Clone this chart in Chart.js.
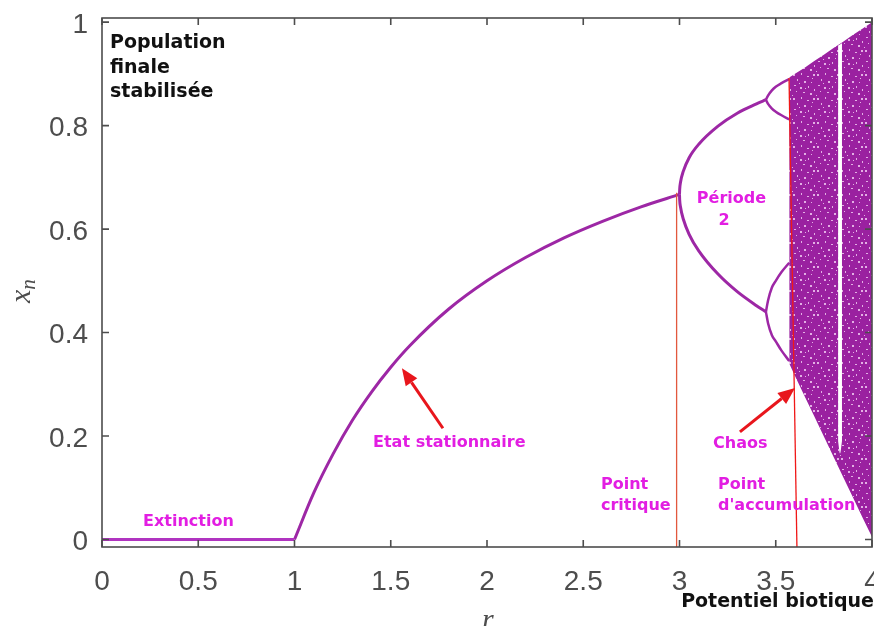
<!DOCTYPE html>
<html>
<head>
<meta charset="utf-8">
<script src="https://cdn.jsdelivr.net/npm/chart.js@4/dist/chart.umd.min.js"></script>
<style>
  html, body { margin: 0; padding: 0; background: #fff; }
  canvas { display: block; }
</style>
</head>
<body>
<canvas id="bif" width="874" height="626"></canvas>
<script>
// tick values
const xTicks = [0, 0.5, 1, 1.5, 2, 2.5, 3, 3.5, 4];
const yTicks = [0, 0.2, 0.4, 0.6, 0.8, 1];

// r < 1 : extinction
const extinctionR = [0, 1];
const extinctionX = [0, 0];

// 1 < r < 3 : stable fixed point
const stableR = [1, 1.1, 1.2, 1.3, 1.4, 1.5, 1.6, 1.8, 2.0, 2.2, 2.4, 2.6, 2.8, 3.0];
const stableX = [0, 0.09, 0.165, 0.23, 0.285, 0.333, 0.375, 0.445, 0.5, 0.545, 0.583, 0.615, 0.643, 0.667];

// period 2
const period2R = [3.0, 3.001, 3.005, 3.02, 3.05, 3.1, 3.2, 3.3, 3.4, 3.449];
const period2Upper = [0.667, 0.677, 0.69, 0.712, 0.738, 0.764, 0.799, 0.824, 0.842, 0.85];
const period2Lower = [0.667, 0.656, 0.643, 0.619, 0.59, 0.558, 0.513, 0.479, 0.452, 0.44];

// period 4 (up to the accumulation point)
const period4R = [3.449, 3.46, 3.48, 3.5, 3.53, 3.57];
const period4A = [0.85, 0.858, 0.868, 0.875, 0.882, 0.89];
const period4B = [0.85, 0.842, 0.833, 0.827, 0.82, 0.812];
const period4C = [0.44, 0.462, 0.487, 0.5, 0.517, 0.535];
const period4D = [0.44, 0.418, 0.395, 0.383, 0.365, 0.345];

// chaotic band envelope
const chaosR = [3.57, 3.6, 3.65, 3.7, 3.75, 3.8, 3.85, 3.9, 3.95, 4.0];
const chaosTop = [0.893, 0.9, 0.912, 0.925, 0.937, 0.95, 0.962, 0.975, 0.987, 1.0];
const chaosBottom = [0.34, 0.316, 0.277, 0.238, 0.199, 0.16, 0.121, 0.082, 0.043, 0.005];

// period-3 window (white stripe)
const windowR = [3.824, 3.834, 3.844];
const windowTop = [0.955, 0.957, 0.959];
const windowBottom = [0.19, 0.166, 0.19];

const PURPLE = '#9d27a5';
const MAGENTA = '#e21ee2';
const RED = '#e8161c';

const pts = (rs, xs) => rs.map((r, i) => ({ x: r, y: xs[i] }));

// speckled fill for the chaotic region
function speckle() {
  const c = document.createElement('canvas');
  c.width = 24; c.height = 24;
  const g = c.getContext('2d');
  g.fillStyle = '#9a21a0';
  g.fillRect(0, 0, 24, 24);
  g.fillStyle = 'rgba(238,200,240,0.85)';
  [[1, 2, 2, 2], [9, 1, 1, 2], [15, 4, 2, 1], [21, 2, 2, 2], [5, 7, 1, 2], [12, 9, 2, 2],
   [19, 10, 1, 1], [2, 13, 2, 1], [8, 15, 2, 2], [16, 14, 1, 2], [22, 17, 1, 2], [4, 19, 1, 1],
   [11, 20, 2, 1], [18, 21, 2, 2], [0, 23, 1, 1], [13, 16, 1, 1], [7, 11, 1, 1], [20, 6, 1, 1]]
    .forEach(([a, b, w, h]) => g.fillRect(a, b, w, h));
  return g.createPattern(c, 'repeat');
}

const curve = (rs, xs, extra) => Object.assign({
  data: pts(rs, xs),
  showLine: true,
  borderColor: PURPLE,
  borderWidth: 3,
  pointRadius: 0,
  cubicInterpolationMode: 'monotone',
  fill: false,
  order: 2,
}, extra || {});

const notes = [
  { lines: ['Extinction'], r: 0.213, v: 0.026, align: 'left' },
  { lines: ['Etat stationnaire'], r: 1.408, v: 0.179, align: 'left' },
  { lines: ['Période'], r: 3.27, v: 0.65, align: 'center' },
  { lines: ['2'], r: 3.231, v: 0.608, align: 'center' },
  { lines: ['Point', 'critique'], r: 2.592, v: 0.057, align: 'left' },
  { lines: ['Point', "d'accumulation"], r: 3.2, v: 0.057, align: 'left' },
  { lines: ['Chaos'], r: 3.174, v: 0.177, align: 'left' },
];
const arrows = [
  { from: [1.771, 0.215], to: [1.558, 0.331] },
  { from: [3.314, 0.208], to: [3.6, 0.293] },
];
const guides = [
  { from: [2.985, 0.67], to: [2.985, -0.0145], color: '#e2583e' },
  { from: [3.569, 0.892], to: [3.61, -0.0145], color: '#f01818' },
];

const decor = {
  id: 'decor',
  afterDatasetsDraw(chart) {
    const { ctx, chartArea: a, scales: { x, y } } = chart;
    const P = (p) => [x.getPixelForValue(p[0]), y.getPixelForValue(p[1])];
    ctx.save();

    guides.forEach(g => {
      const [x1, y1] = P(g.from), [x2, y2] = P(g.to);
      ctx.strokeStyle = g.color; ctx.lineWidth = 1.3;
      ctx.beginPath(); ctx.moveTo(x1, y1); ctx.lineTo(x2, y2); ctx.stroke();
    });

    // frame with inward ticks
    ctx.strokeStyle = '#4d4d4d'; ctx.lineWidth = 1.6;
    ctx.strokeRect(a.left, a.top, a.right - a.left, a.bottom - a.top);
    ctx.beginPath();
    xTicks.forEach(v => {
      const px = x.getPixelForValue(v);
      ctx.moveTo(px, a.bottom); ctx.lineTo(px, a.bottom - 7);
      ctx.moveTo(px, a.top); ctx.lineTo(px, a.top + 7);
    });
    yTicks.forEach(v => {
      const py = y.getPixelForValue(v);
      ctx.moveTo(a.left, py); ctx.lineTo(a.left + 7, py);
      ctx.moveTo(a.right, py); ctx.lineTo(a.right - 7, py);
    });
    ctx.stroke();

    arrows.forEach(ar => {
      const [x1, y1] = P(ar.from), [x2, y2] = P(ar.to);
      const ang = Math.atan2(y2 - y1, x2 - x1);
      const hl = 17, hw = 7;
      const bx = x2 - hl * Math.cos(ang), by = y2 - hl * Math.sin(ang);
      ctx.strokeStyle = RED; ctx.fillStyle = RED; ctx.lineWidth = 3;
      ctx.beginPath(); ctx.moveTo(x1, y1); ctx.lineTo(bx, by); ctx.stroke();
      ctx.beginPath();
      ctx.moveTo(x2, y2);
      ctx.lineTo(bx + hw * Math.sin(ang), by - hw * Math.cos(ang));
      ctx.lineTo(bx - hw * Math.sin(ang), by + hw * Math.cos(ang));
      ctx.closePath(); ctx.fill();
    });

    ctx.font = "bold 16px 'DejaVu Sans'";
    ctx.fillStyle = MAGENTA;
    ctx.textBaseline = 'alphabetic';
    notes.forEach(n => {
      const [px, py] = P([n.r, n.v]);
      ctx.textAlign = n.align;
      n.lines.forEach((t, i) => ctx.fillText(t, px, py - (n.lines.length - 1 - i) * 21));
    });

    ctx.fillStyle = '#111';
    ctx.font = "bold 19px 'DejaVu Sans'";
    ctx.textAlign = 'left';
    ['Population', 'finale', 'stabilisée'].forEach((t, i) => ctx.fillText(t, a.left + 8, 48 + i * 24.5));
    ctx.textAlign = 'right';
    ctx.fillText('Potentiel biotique', chart.width, 607);

    // axis titles
    ctx.fillStyle = '#4d4d4d';
    ctx.textAlign = 'left';
    ctx.font = "italic 30px 'Liberation Serif'";
    ctx.fillText('r', x.getPixelForValue(2) - 5, 629);
    ctx.translate(30, 303);
    ctx.rotate(-Math.PI / 2);
    ctx.fillText('x', 0, 0);
    const w = ctx.measureText('x').width;
    ctx.font = "italic 21px 'Liberation Serif'";
    ctx.fillText('n', w, 5);
    ctx.restore();
  }
};

const tickFont = { size: 28, family: "'Liberation Sans', Arial, sans-serif" };

new Chart(document.getElementById('bif'), {
  type: 'scatter',
  data: {
    datasets: [
      curve(windowR, windowTop, { borderWidth: 0, borderColor: '#fff', order: 0 }),
      curve(windowR, windowBottom, { borderWidth: 0, borderColor: '#fff', fill: '-1', backgroundColor: '#fff', order: 0 }),
      curve(chaosR, chaosTop, { borderWidth: 0, order: 1, cubicInterpolationMode: 'default', tension: 0 }),
      curve(chaosR, chaosBottom, { borderWidth: 0, fill: '-1', backgroundColor: speckle(), order: 1, cubicInterpolationMode: 'default', tension: 0 }),
      curve(extinctionR, extinctionX, { borderColor: '#b034c0' }),
      curve(stableR, stableX),
      curve(period2R, period2Upper),
      curve(period2R, period2Lower),
      curve(period4R, period4A, { borderWidth: 2.5 }),
      curve(period4R, period4B, { borderWidth: 2.5 }),
      curve(period4R, period4C, { borderWidth: 2.5 }),
      curve(period4R, period4D, { borderWidth: 2.5 }),
    ],
  },
  options: {
    responsive: false,
    animation: false,
    devicePixelRatio: 1,
    layout: { padding: { left: 0, right: 2, top: 18, bottom: 0 } },
    plugins: { legend: { display: false }, tooltip: { enabled: false } },
    scales: {
      x: {
        type: 'linear', min: 0, max: 4,
        grid: { display: false, drawTicks: false }, border: { display: false },
        afterBuildTicks: s => { s.ticks = xTicks.map(v => ({ value: v })); },
        afterFit: s => { s.height = 79; s.paddingLeft = 0; s.paddingRight = 0; },
        ticks: { padding: 18, color: '#4d4d4d', font: tickFont, callback: v => String(v) },
      },
      y: {
        type: 'linear', min: -0.0145, max: 1.008,
        grid: { display: false, drawTicks: false }, border: { display: false },
        afterBuildTicks: s => { s.ticks = yTicks.map(v => ({ value: v })); },
        afterFit: s => { s.width = 102; s.paddingTop = 0; s.paddingBottom = 0; },
        ticks: { padding: 14, labelOffset: 3, color: '#4d4d4d', font: tickFont, callback: v => String(v) },
      },
    },
  },
  plugins: [decor],
});
</script>
</body>
</html>
